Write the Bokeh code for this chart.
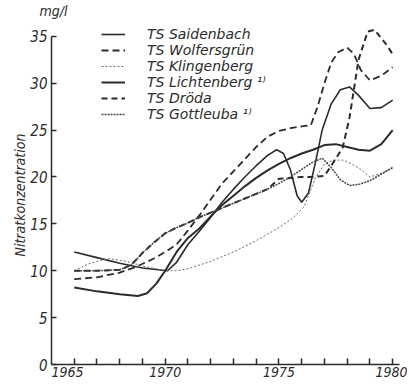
from bokeh.plotting import figure
from bokeh.models import FixedTicker, Legend, LegendItem, Range1d, Title
from bokeh.embed import file_html
from bokeh.resources import INLINE

# ---- data ----
sai_x = [1966, 1967, 1968, 1969, 1970.1, 1970.5, 1971, 1971.5, 1972, 1972.5, 1973, 1973.5,
         1974, 1974.5, 1974.9, 1975.2, 1975.5, 1975.8, 1976.0, 1976.3, 1976.6, 1976.9,
         1977.3, 1977.7, 1978.1, 1978.5, 1979, 1979.5, 1980]
sai_y = [12.0, 11.4, 10.8, 10.3, 10.0, 10.9, 12.8, 14.2, 15.7, 17.3, 18.7, 20.0,
         21.2, 22.3, 22.9, 22.5, 20.8, 18.0, 17.3, 18.3, 21.5, 25.0,
         27.8, 29.3, 29.6, 28.7, 27.3, 27.4, 28.2]

wol_x = [1966, 1967, 1968, 1968.7, 1969.5, 1970, 1970.5, 1971, 1971.5, 1972, 1972.5, 1973,
         1973.5, 1974, 1974.5, 1975, 1975.5, 1976, 1976.4, 1976.7, 1977, 1977.3, 1977.6,
         1978, 1978.3, 1978.6, 1979, 1979.5, 1980]
wol_y = [9.1, 9.3, 9.8, 10.4, 11.3, 12.0, 12.8, 14.3, 15.9, 17.6, 19.3, 20.6,
         21.9, 23.2, 24.3, 24.9, 25.2, 25.4, 25.5, 27.5, 30.0, 32.2, 33.3,
         33.8, 33.1, 31.4, 30.3, 30.8, 31.7]

kli_x = [1966, 1966.7, 1967.5, 1968.3, 1969, 1970, 1970.5, 1971, 1972, 1973, 1974, 1975,
         1975.6, 1976.1, 1976.6, 1977, 1977.4, 1977.8, 1978.2, 1978.6, 1979, 1979.5, 1980]
kli_y = [10.0, 10.8, 11.3, 11.0, 10.5, 10.0, 10.0, 10.2, 11.0, 12.0, 13.2, 14.6,
         15.6, 16.8, 19.9, 21.4, 21.8, 21.8, 21.4, 20.8, 20.0, 20.4, 21.0]

lic_x = [1966, 1967, 1968, 1968.8, 1969.2, 1969.6, 1970, 1970.5, 1971, 1971.5, 1972, 1972.5,
         1973, 1973.5, 1974, 1974.5, 1975, 1975.5, 1976, 1976.5, 1977, 1977.5, 1978, 1978.5,
         1979, 1979.5, 1980]
lic_y = [8.2, 7.8, 7.5, 7.3, 7.6, 8.6, 10.0, 12.0, 13.5, 14.5, 15.8, 17.0,
         18.0, 19.0, 19.9, 20.7, 21.4, 22.0, 22.5, 22.9, 23.4, 23.5, 23.2, 22.9,
         22.8, 23.5, 25.0]

dro_x = [1966, 1967, 1968, 1968.5, 1969, 1969.5, 1970, 1970.5, 1971, 1971.5, 1972, 1972.5,
         1973, 1973.5, 1974, 1974.5, 1975, 1975.5, 1976, 1976.5, 1977, 1977.3, 1977.8,
         1978.1, 1978.5, 1978.9, 1979.2, 1979.7, 1980]
dro_y = [10.0, 10.0, 10.1, 10.6, 11.9, 13.0, 14.0, 14.6, 15.1, 15.7, 16.2, 16.7,
         17.2, 17.7, 18.2, 18.7, 19.8, 19.9, 20.0, 20.0, 20.1, 21.2, 23.1,
         26.3, 32.5, 35.5, 35.7, 34.2, 33.1]

got_x = [1966, 1967, 1968, 1968.5, 1969, 1969.5, 1970, 1970.5, 1971, 1971.5, 1972, 1972.5,
         1973, 1973.5, 1974, 1974.5, 1975, 1975.5, 1976, 1976.5, 1976.9, 1977.3, 1977.7,
         1978.1, 1978.5, 1979, 1979.5, 1980]
got_y = [10.0, 10.0, 10.1, 10.6, 11.9, 13.0, 14.0, 14.6, 15.1, 15.7, 16.2, 16.7,
         17.2, 17.7, 18.2, 18.7, 19.3, 20.0, 20.8, 21.6, 22.0, 21.0, 19.7,
         19.1, 19.2, 19.6, 20.3, 21.0]

names = ["TS Saidenbach", "TS Wolfersgrün", "TS Klingenberg",
         "TS Lichtenberg \u00b9\u207e", "TS Dröda", "TS Gottleuba \u00b9\u207e"]

y_ticks = [0, 5, 10, 15, 20, 25, 30, 35]
x_label_pos = [1965.7, 1970, 1975, 1980]
x_labels = ["1965", "1970", "1975", "1980"]
x_minor = list(range(1966, 1981))

FONT = "DejaVu Sans Condensed"
LFONT = "DejaVu Sans"
INK = "#2b2b2b"

p = figure(width=407, height=382, x_range=Range1d(1965, 1980.3), y_range=Range1d(0, 36.9),
           output_backend="svg", toolbar_location=None,
           min_border_left=51, min_border_right=8, min_border_top=0, min_border_bottom=18)
p.xgrid.visible = False
p.ygrid.visible = False
p.outline_line_color = None
p.background_fill_color = "white"
p.border_fill_color = "white"

p.title.text = "mg/l"
p.title.align = "left"
p.title.offset = -12
p.title.standoff = 0
p.title.text_font = FONT
p.title.text_font_style = "italic"
p.title.text_font_size = "14px"
p.title.text_color = INK

styles = [
    (sai_x, sai_y, dict(line_width=1.6, line_color=INK)),
    (wol_x, wol_y, dict(line_width=1.8, line_color=INK, line_dash="7 4")),
    (kli_x, kli_y, dict(line_width=1.0, line_color="#6a6a6a", line_dash="2 2")),
    (lic_x, lic_y, dict(line_width=2.0, line_color=INK)),
    (dro_x, dro_y, dict(line_width=2.0, line_color=INK, line_dash="6 4")),
    (got_x, got_y, dict(line_width=1.5, line_color="#444444", line_dash="2 1")),
]
items = []
for (xs, ys, st), nm in zip(styles, names):
    r = p.line(xs, ys, **st)
    items.append(LegendItem(label=nm, renderers=[r]))

legend = Legend(items=items, location=(50, 242), orientation="vertical",
                glyph_width=24, glyph_height=16, label_height=16, spacing=0,
                padding=0, margin=0, label_standoff=22,
                label_text_font=LFONT, label_text_font_style="italic",
                label_text_font_size="14px", label_text_color=INK,
                background_fill_alpha=0, border_line_color=None)
p.add_layout(legend)

ytitle = Title(text="Nitratkonzentration", align="left", offset=108, standoff=0,
               text_font=FONT, text_font_style="italic", text_font_size="14px",
               text_color=INK)
p.add_layout(ytitle, "left")

ya = p.yaxis[0]
ya.ticker = FixedTicker(ticks=y_ticks)
ya.bounds = (0, 35)
ya.major_tick_in = 5
ya.major_tick_out = 0
ya.minor_tick_in = 0
ya.minor_tick_out = 0
ya.axis_line_width = 1.5
ya.axis_line_color = INK
ya.major_tick_line_color = INK
ya.major_tick_line_width = 1.5
ya.major_label_standoff = 4
ya.axis_label_standoff = 0
ya.major_label_text_font = FONT
ya.major_label_text_font_style = "italic"
ya.major_label_text_font_size = "15px"
ya.major_label_text_color = INK

xa = p.xaxis[0]
xa.ticker = FixedTicker(ticks=x_label_pos, minor_ticks=x_minor)
xa.major_label_overrides = {k: v for k, v in zip(x_label_pos, x_labels)}
xa.major_tick_in = 0
xa.major_tick_out = 0
xa.minor_tick_in = 6
xa.minor_tick_out = 0
xa.minor_tick_line_color = INK
xa.minor_tick_line_width = 1.5
xa.axis_line_width = 1.5
xa.axis_line_color = INK
xa.major_label_standoff = 2
xa.axis_label_standoff = 0
xa.major_label_text_font = FONT
xa.major_label_text_font_style = "italic"
xa.major_label_text_font_size = "14px"
xa.major_label_text_color = INK

open("out.html", "w").write(file_html(p, INLINE))
